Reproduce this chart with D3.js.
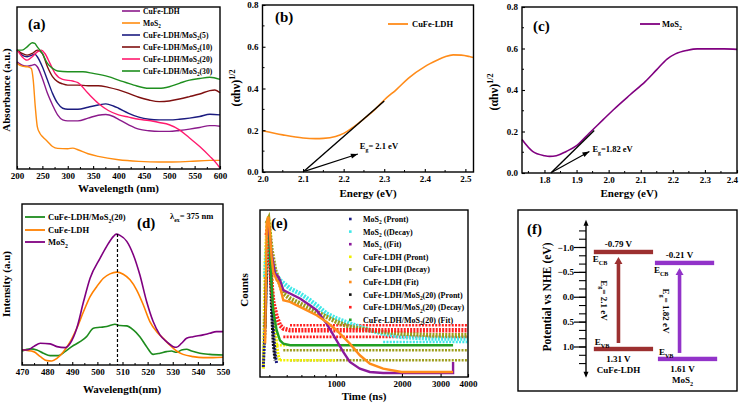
<!DOCTYPE html>
<html><head><meta charset="utf-8">
<script src="https://cdn.jsdelivr.net/npm/d3@7"></script>
<style>
body{margin:0;background:#fff}
</style></head><body><svg id="c" width="739" height="405"></svg>
<script>
// ---------- DATA ----------
// (a) UV-vis absorbance (a.u.)
const aLDH  = [[200,66.2],[210,64.1],[220,63.5],[230,64.1],[235,64.5],[240,63.1],[250,55.9],[260,46.7],[270,39.5],[280,33.4],[290,30.3],[300,29.7],[320,29.7],[340,31.4],[360,33.2],[375,33.6],[390,32.4],[400,30.7],[420,27.3],[440,24.6],[460,23.6],[480,23.2],[500,23.2],[520,23.8],[540,24.6],[560,25.6],[580,26.8],[590,26.8],[600,26.4]];
const aMoS2 = [[200,65.2],[210,63.5],[220,63.1],[228,62.1],[232,54.9],[236,38.5],[240,26.2],[245,22.1],[250,20.1],[260,17.0],[270,13.9],[280,12.7],[300,12.5],[310,12.9],[320,11.9],[340,9.4],[360,7.8],[400,5.7],[440,4.7],[480,4.3],[500,4.3],[540,4.7],[580,5.3],[600,5.3]];
const aC5   = [[200,73.4],[205,72.3],[210,70.3],[220,69.3],[230,70.3],[235,70.9],[240,69.3],[250,63.1],[260,54.9],[270,46.7],[280,40.6],[290,37.5],[300,36.9],[320,36.9],[340,38.1],[360,39.5],[375,40.2],[390,38.9],[400,37.5],[420,34.4],[440,32.0],[460,30.7],[480,30.3],[500,30.3],[520,30.7],[540,31.4],[560,32.4],[580,33.8],[600,33.4]];
const aC10  = [[200,73.4],[210,71.3],[220,70.3],[230,71.3],[240,73.4],[250,71.3],[260,63.1],[270,57.0],[280,53.9],[290,52.5],[300,51.8],[320,51.8],[340,51.4],[360,51.4],[380,50.4],[400,48.8],[420,46.7],[440,44.3],[460,42.6],[480,41.6],[500,42.0],[520,43.2],[540,44.7],[560,46.3],[580,48.4],[590,48.8],[600,47.1]];
const aC20  = [[200,73.8],[210,69.3],[220,67.2],[230,69.3],[240,72.3],[248,73.4],[255,71.3],[265,65.2],[275,59.0],[290,55.3],[310,54.3],[320,53.3],[340,46.7],[360,40.6],[380,36.1],[400,33.4],[420,32.0],[440,30.7],[460,29.9],[480,28.7],[500,27.3],[520,24.2],[540,19.1],[560,13.9],[580,7.8],[595,2.7],[600,0.6]];
const aC30  = [[200,73.4],[210,73.4],[220,75.4],[230,77.9],[235,77.5],[240,75.4],[250,71.3],[260,65.2],[270,62.1],[280,60.5],[300,60.0],[330,60.0],[350,59.0],[380,57.0],[400,54.9],[430,51.8],[460,49.8],[480,49.8],[500,50.8],[520,52.9],[540,54.9],[560,55.9],[580,56.6],[600,55.3]];
const aNames = [["CuFe-LDH"],["MoS","2"],["CuFe-LDH/MoS","2","(5)"],["CuFe-LDH/MoS","2","(10)"],["CuFe-LDH/MoS","2","(20)"],["CuFe-LDH/MoS","2","(30)"]];
const aTicks = [200,250,300,350,400,450,500,550,600];

// (b) Tauc plot CuFe-LDH
const bCurve = [[2.00,0.198],[2.05,0.178],[2.10,0.163],[2.13,0.160],[2.15,0.161],[2.18,0.170],[2.20,0.185],[2.22,0.21],[2.25,0.255],[2.28,0.305],[2.30,0.345],[2.33,0.395],[2.36,0.45],[2.40,0.505],[2.43,0.535],[2.45,0.552],[2.47,0.561],[2.49,0.560],[2.51,0.553],[2.52,0.548]];
const bTangent = [[2.10,0],[2.30,0.34]];
const bArrow = [[2.105,0.004],[2.235,0.086]];
const bGap = 2.1;
const bXTicks = [2.0,2.1,2.2,2.3,2.4,2.5];
const bYTicks = [0,0.2,0.4,0.6,0.8];

// (c) Tauc plot MoS2
const cCurve = [[1.73,0.161],[1.763,0.104],[1.80,0.0835],[1.816,0.080],[1.837,0.083],[1.868,0.104],[1.90,0.132],[1.94,0.193],[1.983,0.257],[2.015,0.305],[2.067,0.377],[2.114,0.44],[2.15,0.498],[2.182,0.549],[2.208,0.574],[2.245,0.591],[2.276,0.598],[2.31,0.598],[2.36,0.598],[2.40,0.596]];
const cTangent = [[1.82,0],[1.955,0.205]];
const cArrow = [[1.823,0.004],[1.94,0.104]];
const cGap = 1.82;
const cXTicks = [1.8,1.9,2.0,2.1,2.2,2.3,2.4];
const cYTicks = [0,0.2,0.4,0.6,0.8];

// (d) PL spectra (a.u.)
const dComp = [[470,8.7],[473.3,10.0],[475.9,9.3],[478.5,7.3],[481.2,5.8],[484.5,5.8],[487.1,8.3],[489.8,11.4],[493.1,14.5],[495.7,17.6],[498.4,22.8],[501,23.4],[503.7,23.9],[505.7,24.9],[507,25.3],[509,24.5],[511.6,24.3],[514.3,21.8],[516.9,17.6],[519.6,11.4],[522.2,6.6],[524.9,7.3],[527.5,8.3],[529.5,8.7],[531.5,7.9],[533.5,9.3],[535.5,9.8],[537.5,8.7],[540.8,7.3],[544.7,6.6],[550,6.2]];
const dLDH  = [[470,9.3],[474.6,8.3],[477.3,5.2],[479.9,2.7],[481.9,2.5],[483.9,4.1],[486.5,8.3],[489.2,14.5],[491.8,22.8],[494.5,33.2],[497.1,42.5],[499.8,48.8],[502.4,53.9],[505,56.6],[507.7,57.7],[510.3,56.4],[513,52.9],[515.6,46.7],[518.3,37.3],[520.9,27.0],[523.6,20.7],[526.2,16.6],[528.8,12.4],[531.5,8.7],[534.1,6.6],[538.1,5.2],[542.1,4.6],[546,4.6],[550,4.8]];
const dMoS2 = [[470,9.3],[472,9.3],[474.6,11.4],[477.3,13.5],[481.2,13.1],[483.9,11.4],[487.2,10.8],[489.2,13.5],[491.8,22.8],[494.5,39.4],[497.1,53.9],[501.1,66.4],[503.7,73.7],[506.4,79.9],[507.5,81.3],[509,80.5],[511.7,76.8],[514.3,68.5],[516.9,56.0],[519.6,39.4],[522.2,27.0],[524.9,18.7],[527.5,14.5],[530.2,11.4],[531.5,11.0],[533.5,13.5],[535.5,16.6],[538.1,17.6],[542.1,18.7],[544.7,19.7],[547.4,20.7],[550,20.7]];
const dPeak = 508;
const dTicks = [470,480,490,500,510,520,530,540,550];

// (e) TRPL decay (counts, a.u.; time in ns)
const eMosPront  = [[467,6],[476,30],[484,70],[492,92],[501,80],[509,55],[518,30],[528,15],[537,8]];
const eMosDecay  = [[476,60],[492,88],[509,70],[528,62],[556,58],[618,53],[686,50],[761,46],[817,43],[907,38],[1007,35],[1158,32],[1286,30],[1428,28],[1642,26],[1990,24],[2773,23],[4000,23]];
const eMosFit    = [[492,92],[509,74],[528,62],[546,60],[556,58],[576,52],[618,50],[686,47],[761,43],[817,40],[907,32],[1007,22],[1080,15],[1158,9],[1286,5],[1428,3],[1642,2.4],[1990,2.4],[3420,2.4],[3420,9]];
const eLdhPront  = [[467,5],[472,40],[476,70],[484,90],[492,96],[501,88],[509,65],[518,45],[528,30],[537,20],[546,13],[556,10]];
const eLdhDecay  = [[484,92],[492,94],[509,76],[528,64],[556,56],[576,50],[618,47],[686,44],[817,39],[1007,33],[1158,30],[1428,28],[1642,27],[1990,26],[2773,25],[4000,25]];
const eLdhFit    = [[476,20],[484,92],[492,96],[501,85],[509,72],[518,63],[537,58],[546,57],[556,54],[576,46],[618,45],[686,42],[817,37],[907,33],[1007,28],[1080,24],[1158,20],[1286,13],[1428,8],[1642,5],[1990,3],[2329,3],[3420,3]];
const eCompPront = [[476,30],[484,70],[492,90],[501,70],[509,40],[518,20],[528,10]];
const eCompDecay = [[484,85],[492,90],[501,70],[509,55],[518,45],[537,36],[556,31],[576,29],[618,28],[4000,28]];
const eCompFit   = [[484,90],[492,94],[501,75],[509,55],[518,40],[537,28],[556,22],[576,20],[618,19],[3420,19]];
// noise-floor bands: [series, tStart, tEnd, level]
const eFloors = [["ldhDecay",576,4000,16],["ldhDecay",618,4000,10],["compDecay",576,4000,24],["compDecay",618,4000,31],["mosDecay",1642,4000,21],["ldhPront",556,1007,10],["ldhPront",518,600,19]];
const eTicks = [1000,2000,3000,4000];
const eMinor = [500,600,700,800,900];
const eNames = [[["MoS","2"," (Pront)"]],[["MoS","2"," ((Decay)"]],[["MoS","2"," ((Fit)"]],[["CuFe-LDH (Pront)"]],[["CuFe-LDH (Decay)"]],[["CuFe-LDH (Fit)"]],[["CuFe-LDH/MoS","2","(20) (Pront)"]],[["CuFe-LDH/MoS","2","(20) (Decay)"]],[["CuFe-LDH/MoS","2","(20) (Fit)"]]];

// (f) band structure
const fMaterials = ["CuFe-LDH","MoS2"];
const fCB = ["-0.79 V","-0.21 V"];
const fVB = ["1.31 V","1.61 V"];
const fGap = ["2.1","1.82"];
const fCBLevel = [-0.91,-0.69];   // schematic levels on the drawn axis
const fVBLevel = [1.04,1.24];
const fTicks = [-1.0,-0.5,0.0,0.5,1.0];

// ---------- DRAW ----------
const F = "'Liberation Serif','Times New Roman',serif";
const svg = d3.select("#c");
svg.append("rect").attr("width",739).attr("height",405).attr("fill","#fff");

function box(x0,x1,y0,y1){
  svg.append("rect").attr("x",x0).attr("y",y0).attr("width",x1-x0).attr("height",y1-y0)
    .attr("fill","none").attr("stroke","#000").attr("stroke-width",1.4);
}
function styleAxis(g,size){
  g.select(".domain").remove();
  g.selectAll("line").attr("stroke","#000").attr("stroke-width",1.1);
  g.selectAll("text").attr("font-family",F).attr("font-weight","bold").attr("font-size",size||9).attr("fill","#000");
}
function bottomAxis(x,yPos,ticks,fmt,minor){
  const g = svg.append("g").attr("transform",`translate(0,${yPos})`);
  g.call(d3.axisBottom(x).tickValues(ticks).tickFormat(fmt).tickSize(-3).tickPadding(4));
  styleAxis(g);
  if(minor) g.selectAll("line.mn").data(minor).enter().append("line").attr("class","mn")
    .attr("x1",d=>x(d)).attr("x2",d=>x(d)).attr("y1",0).attr("y2",-2).attr("stroke","#000").attr("stroke-width",1);
  return g;
}
function leftAxis(y,xPos,ticks,fmt,minor){
  const g = svg.append("g").attr("transform",`translate(${xPos},0)`);
  g.call(d3.axisLeft(y).tickValues(ticks).tickFormat(fmt).tickSize(-3).tickPadding(4));
  styleAxis(g);
  if(minor) g.selectAll("line.mn").data(minor).enter().append("line").attr("class","mn")
    .attr("y1",d=>y(d)).attr("y2",d=>y(d)).attr("x1",0).attr("x2",2).attr("stroke","#000").attr("stroke-width",1);
  return g;
}
function rich(parent,x,y,parts,size,opts){
  opts = opts||{};
  const t = parent.append("text").attr("x",x).attr("y",y).attr("font-size",size)
    .attr("font-family",F).attr("font-weight","bold").attr("fill",opts.fill||"#000");
  if(opts.anchor) t.attr("text-anchor",opts.anchor);
  if(opts.transform) t.attr("transform",opts.transform);
  let cur = 0;
  parts.forEach(p=>{
    const s = Array.isArray(p)?p[0]:p, type = Array.isArray(p)?p[1]:"";
    const target = type==="sub"? size*0.3 : type==="sup"? -size*0.45 : 0;
    const ts = t.append("tspan").text(s).attr("dy",target-cur);
    if(type) ts.attr("font-size",size*0.68);
    cur = target;
  });
  return t;
}
function subParts(arr){ return arr.map((s,i)=> i%2===1 ? [s,"sub"] : s); }
function rotLabel(x,y,parts,size){
  return rich(svg,0,0,parts,size,{anchor:"middle",transform:`translate(${x},${y}) rotate(-90)`});
}
const f1 = d3.format(".1f");
function arrowHead(x1,y1,x2,y2,len,w,color){
  const a = Math.atan2(y2-y1,x2-x1);
  const bx = x2-len*Math.cos(a), by = y2-len*Math.sin(a);
  const px = -Math.sin(a)*w/2, py = Math.cos(a)*w/2;
  svg.append("polygon").attr("points",`${x2},${y2} ${bx+px},${by+py} ${bx-px},${by-py}`).attr("fill",color);
}

// ===== (a) =====
{
  const x = d3.scaleLinear([200,600],[17,220]);
  const y = d3.scaleLinear([0,100],[169,7]);
  const series = [aLDH,aMoS2,aC5,aC10,aC20,aC30];
  const colors = ["#8b1a8b","#ff8c10","#1c1c80","#7f1010","#ff1a6e","#1f8f1f"];
  const line = d3.line().x(d=>x(d[0])).y(d=>y(d[1])).curve(d3.curveMonotoneX);
  series.forEach((s,i)=> svg.append("path").attr("d",line(s)).attr("fill","none").attr("stroke",colors[i]).attr("stroke-width",1.4));
  box(17,220,7,169);
  bottomAxis(x,169,aTicks,d3.format("d"),d3.range(225,600,50));
  aNames.forEach((n,i)=>{
    const yy = 11+i*12;
    svg.append("line").attr("x1",122).attr("x2",140).attr("y1",yy).attr("y2",yy).attr("stroke",colors[i]).attr("stroke-width",1.6);
    rich(svg,143,yy+3,subParts(n),7.6);
  });
  rich(svg,28,29,["(a)"],15);
  rich(svg,118.5,192,["Wavelength (nm)"],11,{anchor:"middle"});
  rotLabel(10,90,["Absorbance (a.u.)"],11);
}

// ===== (b) =====
{
  const x = d3.scaleLinear([2.0,2.52],[262.5,473.5]);
  const y = d3.scaleLinear([0,0.8],[172,5]);
  const line = d3.line().x(d=>x(d[0])).y(d=>y(d[1])).curve(d3.curveMonotoneX);
  svg.append("path").attr("d",line(bCurve)).attr("fill","none").attr("stroke","#ff8c1a").attr("stroke-width",1.6);
  svg.append("path").attr("d",d3.line().x(d=>x(d[0])).y(d=>y(d[1]))(bTangent)).attr("stroke","#000").attr("stroke-width",1.4);
  const [p,q] = bArrow;
  svg.append("line").attr("x1",x(p[0])).attr("y1",y(p[1])).attr("x2",x(q[0])).attr("y2",y(q[1])).attr("stroke","#000").attr("stroke-width",1.2);
  arrowHead(x(p[0]),y(p[1]),x(q[0]),y(q[1]),7,5,"#000");
  rich(svg,x(q[0])+2,y(q[1])-5,["E",["g","sub"],"= "+bGap+" eV"],8.5);
  box(262.5,473.5,5,172);
  bottomAxis(x,172,bXTicks,f1,d3.range(2.05,2.52,0.1));
  leftAxis(y,262.5,bYTicks,f1,d3.range(0.1,0.8,0.2));
  svg.append("line").attr("x1",388).attr("x2",408).attr("y1",24).attr("y2",24).attr("stroke","#ff8c1a").attr("stroke-width",1.8);
  rich(svg,412,27,["CuFe-LDH"],8.5);
  rich(svg,275,22,["(b)"],15);
  rich(svg,368,197,["Energy (eV)"],11,{anchor:"middle"});
  rotLabel(240,88,["(αhν)",["1/2","sup"]],12);
}

// ===== (c) =====
{
  const x = d3.scaleLinear([1.73,2.4],[522,737]);
  const y = d3.scaleLinear([0,0.8],[173,7]);
  const line = d3.line().x(d=>x(d[0])).y(d=>y(d[1])).curve(d3.curveMonotoneX);
  svg.append("path").attr("d",line(cCurve)).attr("fill","none").attr("stroke","#800080").attr("stroke-width",1.6);
  svg.append("path").attr("d",d3.line().x(d=>x(d[0])).y(d=>y(d[1]))(cTangent)).attr("stroke","#000").attr("stroke-width",1.4);
  const [p,q] = cArrow;
  svg.append("line").attr("x1",x(p[0])).attr("y1",y(p[1])).attr("x2",x(q[0])).attr("y2",y(q[1])).attr("stroke","#000").attr("stroke-width",1.2);
  arrowHead(x(p[0]),y(p[1]),x(q[0]),y(q[1]),7,5,"#000");
  rich(svg,x(q[0])+3,y(q[1])+1,["E",["g","sub"],"="+cGap+" eV"],8.5);
  box(522,737,7,173);
  const ax = bottomAxis(x,173,cXTicks,f1,d3.range(1.75,2.4,0.1));
  ax.selectAll(".tick text").filter(d=>Math.abs(d-2.4)<1e-9).attr("text-anchor","end").attr("dx",0.5);
  leftAxis(y,522,cYTicks,f1,d3.range(0.1,0.8,0.2));
  svg.append("line").attr("x1",640).attr("x2",660).attr("y1",24).attr("y2",24).attr("stroke","#800080").attr("stroke-width",1.8);
  rich(svg,662,27,["MoS",["2","sub"]],8.5);
  rich(svg,533,31,["(c)"],15);
  rich(svg,629,197,["Energy (eV)"],11,{anchor:"middle"});
  rotLabel(498,92,["(αhν)",["1/2","sup"]],12);
}

// ===== (d) =====
{
  const x = d3.scaleLinear([470,550],[22,223]);
  const y = d3.scaleLinear([0,100],[365,204]);
  const line = d3.line().x(d=>x(d[0])).y(d=>y(d[1])).curve(d3.curveMonotoneX);
  const series = [dComp,dLDH,dMoS2];
  const colors = ["#1e8c1e","#ff8000","#800080"];
  series.forEach((s,i)=> svg.append("path").attr("d",line(s)).attr("fill","none").attr("stroke",colors[i]).attr("stroke-width",1.6));
  const peakTop = d3.max(dMoS2,d=>d[1]);
  svg.append("line").attr("x1",x(dPeak)).attr("x2",x(dPeak)).attr("y1",y(peakTop)).attr("y2",y(0))
    .attr("stroke","#000").attr("stroke-width",1.2).attr("stroke-dasharray","3,2");
  box(22,223,204,365);
  bottomAxis(x,365,dTicks,d3.format("d"),d3.range(475,550,10));
  const names = [["CuFe-LDH/MoS","2","(20)"],["CuFe-LDH"],["MoS","2"]];
  const ly = [217,230,242];
  names.forEach((n,i)=>{
    svg.append("line").attr("x1",25).attr("x2",45).attr("y1",ly[i]).attr("y2",ly[i]).attr("stroke",colors[i]).attr("stroke-width",1.8);
    rich(svg,48,ly[i]+3,subParts(n),8.5);
  });
  rich(svg,137,228,["(d)"],15);
  rich(svg,170,219,["λ",["ex","sub"],"= 375 nm"],8.5);
  rich(svg,122,393,["Wavelength(nm)"],11,{anchor:"middle"});
  rotLabel(10,284,["Intensity (a.u)"],11);
}

// ===== (e) =====
{
  const x = d3.scaleLog([451,4000],[260,468]);
  const y = d3.scaleLinear([0,100],[377,210]);
  const line = d3.line().x(d=>x(d[0])).y(d=>y(d[1]));
  const S = {
    mosPront:{d:eMosPront,c:"#1c1c80"}, mosDecay:{d:eMosDecay,c:"#40e8e8"}, mosFit:{d:eMosFit,c:"#8b1a9b"},
    ldhPront:{d:eLdhPront,c:"#f0f000"}, ldhDecay:{d:eLdhDecay,c:"#9c9c1a"}, ldhFit:{d:eLdhFit,c:"#ff8c1a"},
    compPront:{d:eCompPront,c:"#111"}, compDecay:{d:eCompDecay,c:"#ff2020"}, compFit:{d:eCompFit,c:"#22a022"}
  };
  const order = ["ldhPront","mosPront","compPront","mosDecay","ldhDecay","compDecay","compFit","mosFit","ldhFit"];
  const g = svg.append("g");
  eFloors.forEach(f=>{
    g.append("line").attr("x1",x(f[1])).attr("x2",x(f[2])).attr("y1",y(f[3])).attr("y2",y(f[3]))
      .attr("stroke",S[f[0]].c).attr("stroke-width",2.6).attr("stroke-dasharray","2,1.3");
  });
  order.forEach(k=>{
    const fit = k.endsWith("Fit"), decay = k.endsWith("Decay");
    g.append("path").attr("d",line(S[k].d)).attr("fill","none").attr("stroke",S[k].c)
      .attr("stroke-width",fit?2.4:(decay?4.5:3)).attr("stroke-dasharray",fit?null:"2,1.2");
  });
  box(260,468,210,377);
  bottomAxis(x,377,eTicks,d3.format("d"),eMinor);
  const keys = ["mosPront","mosDecay","mosFit","ldhPront","ldhDecay","ldhFit","compPront","compDecay","compFit"];
  keys.forEach((k,i)=>{
    const yy = 219+i*12.6;
    svg.append("rect").attr("x",349).attr("y",yy-1.3).attr("width",2.6).attr("height",2.6).attr("fill",S[k].c);
    rich(svg,363,yy+3,subParts(eNames[i][0]),8);
  });
  rich(svg,271,228,["(e)"],15);
  rich(svg,364,400,["Time (ns)"],11,{anchor:"middle"});
  rotLabel(248,290,["Counts"],11);
}

// ===== (f) =====
{
  box(518,737,210,391);
  const y = d3.scaleLinear([-1,1],[247.5,347]);
  const xb = d3.scaleBand(fMaterials,[592,716]).padding(0.03);
  const axX = 586;
  svg.append("line").attr("x1",axX).attr("x2",axX).attr("y1",y(-1.5)).attr("y2",y(1.58)).attr("stroke","#000").attr("stroke-width",1.4);
  arrowHead(axX,y(-1.3),axX,y(-1.56),6,5,"#000");
  arrowHead(axX,y(1.3),axX,y(1.62),6,5,"#000");
  const minor = d3.range(-8,9).map(i=>i/6);
  svg.selectAll("line.fm").data(minor).enter().append("line").attr("class","fm")
    .attr("x1",axX-7).attr("x2",axX).attr("y1",d=>y(d)).attr("y2",d=>y(d)).attr("stroke","#000").attr("stroke-width",1.1);
  svg.selectAll("line.fM").data(fTicks).enter().append("line").attr("class","fM")
    .attr("x1",axX-12).attr("x2",axX).attr("y1",d=>y(d)).attr("y2",d=>y(d)).attr("stroke","#000").attr("stroke-width",1.2);
  fTicks.forEach(t=> rich(svg,axX-12,y(t)+3,[f1(t)],9,{anchor:"end"}));
  const colors = ["#9c3030","#9233c9"];
  fMaterials.forEach((m,i)=>{
    const x0 = xb(m), w = xb.bandwidth(), cx = x0+w/2;
    const off = i===0 ? 0 : 3;
    svg.append("rect").attr("x",x0).attr("y",y(fCBLevel[i])-2.2).attr("width",w).attr("height",4.4).attr("fill",colors[i]);
    svg.append("rect").attr("x",x0+off).attr("y",y(fVBLevel[i])-2.2).attr("width",w).attr("height",4.4).attr("fill",colors[i]);
    const ax = cx-5;
    const yTop = y(fCBLevel[i])+5, yBot = y(fVBLevel[i])-6;
    svg.append("line").attr("x1",ax).attr("x2",ax).attr("y1",yBot).attr("y2",yTop+6).attr("stroke",colors[i]).attr("stroke-width",3.6);
    arrowHead(ax,yBot,ax,yTop,7,8,colors[i]);
    rich(svg,cx-5,y(fCBLevel[i])-5,[fCB[i]],9,{anchor:"middle"});
    rich(svg,x0-1,y(fCBLevel[i])+10,["E",["CB","sub"]],9);
    rich(svg,x0+off+1,y(fVBLevel[i])-4,["E",["VB","sub"]],9);
    rich(svg,cx-5+off,y(fVBLevel[i])+13,[fVB[i]],9,{anchor:"middle"});
    const nm = m==="MoS2" ? ["MoS",["2","sub"]] : [m];
    rich(svg,cx-5+off,y(fVBLevel[i])+24,nm,9,{anchor:"middle"});
    const ly = (y(fCBLevel[i])+y(fVBLevel[i]))/2;
    rich(svg,0,0,["E",["g","sub"],"= "+fGap[i]+" eV"],9,{anchor:"middle",transform:`translate(${ax-17},${ly}) rotate(90)`});
  });
  rich(svg,527,234,["(f)"],15);
  rotLabel(551,297,["Potential vs NHE (eV)"],11.5);
}
</script></body></html>
